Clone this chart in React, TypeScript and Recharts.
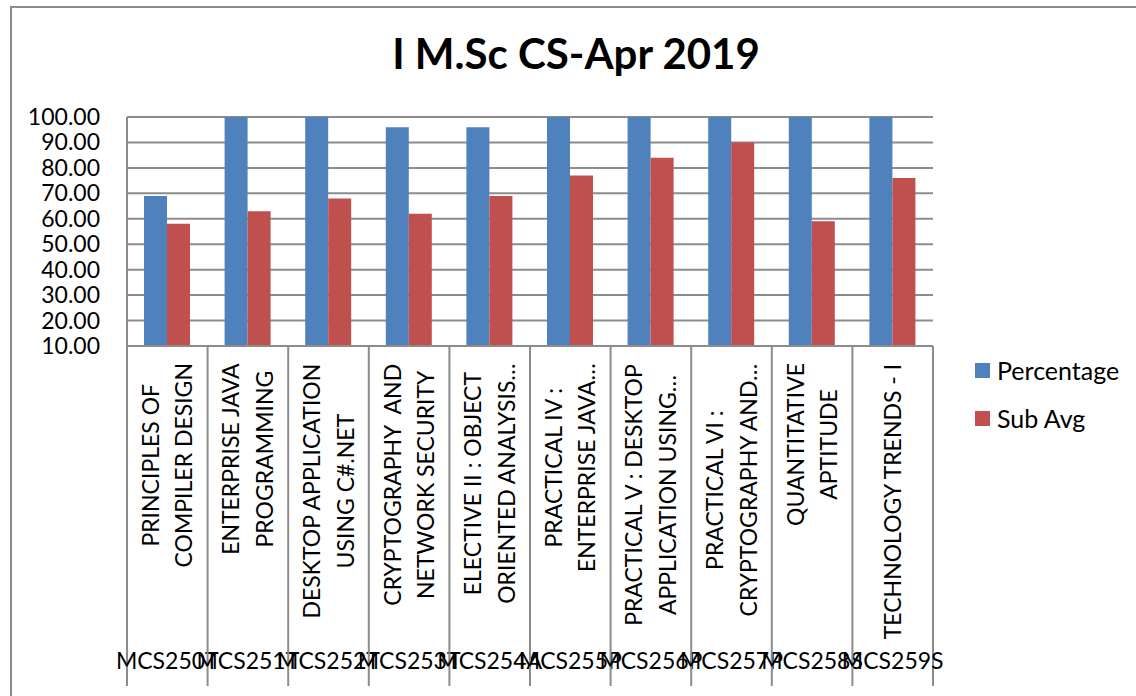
import { Bar, BarChart, CartesianGrid, Legend, XAxis, YAxis } from "recharts";

// Subject codes (bottom row of the category axis)
const codes = [
  "MCS250T", "MCS251T", "MCS252T", "MCS253T", "MCS254A",
  "MCS255P", "MCS256P", "MCS257P", "MCS258S", "MCS259S",
];

// Subject names, already wrapped as in the original labels
const subjectLines = [
  ["PRINCIPLES OF", "COMPILER DESIGN"],
  ["ENTERPRISE JAVA", "PROGRAMMING"],
  ["DESKTOP APPLICATION", "USING C#.NET"],
  ["CRYPTOGRAPHY  AND", "NETWORK SECURITY"],
  ["ELECTIVE II : OBJECT", "ORIENTED ANALYSIS…"],
  ["PRACTICAL IV :", "ENTERPRISE JAVA…"],
  ["PRACTICAL V : DESKTOP", "APPLICATION USING…"],
  ["PRACTICAL VI :", "CRYPTOGRAPHY AND…"],
  ["QUANTITATIVE", "APTITUDE"],
  ["TECHNOLOGY TRENDS - I"],
];

const percentage = [69, 100, 100, 96, 96, 100, 100, 100, 100, 100];
const subAvg = [58, 63, 68, 62, 69, 77, 84, 90, 59, 76];

const yTicks = [10, 20, 30, 40, 50, 60, 70, 80, 90, 100];

const BLUE = "#4F81BD";
const RED = "#C0504D";
const LINE = "#8c8c8c";
const FONT = "Lato, 'Open Sans', sans-serif";

const W = 1136;
const H = 696;
const PLOT_LEFT = 127;
const PLOT_RIGHT = 933;
const PLOT_TOP = 117;
const AXIS_Y = 346;
const BAND = (PLOT_RIGHT - PLOT_LEFT) / codes.length;
const LABEL_FS = 23;
const LABEL_TOP = 363;
const LINE_GAP = 33.5;

const data = codes.map((code, i) => ({
  code,
  percentage: percentage[i],
  subAvg: subAvg[i],
}));

let ctx: CanvasRenderingContext2D | null = null;
function textWidth(s: string, fs: number) {
  if (!ctx) ctx = document.createElement("canvas").getContext("2d");
  if (!ctx) return s.length * fs * 0.55;
  ctx.font = `${fs}px Lato`;
  return ctx.measureText(s).width;
}

function CategoryTick(props: any) {
  const { x, index } = props;
  const lines = subjectLines[index] ?? [];
  const longest = Math.max(...lines.map((l) => textWidth(l, LABEL_FS)));
  const cy = LABEL_TOP + longest / 2;
  const capH = LABEL_FS * 0.72;
  const n = lines.length;
  return (
    <g>
      <line x1={x - BAND / 2} x2={x - BAND / 2} y1={AXIS_Y} y2={686} stroke={LINE} strokeWidth={2} />
      {index === codes.length - 1 && (
        <line x1={x + BAND / 2} x2={x + BAND / 2} y1={AXIS_Y} y2={686} stroke={LINE} strokeWidth={2} />
      )}
      {lines.map((l, j) => {
        const bx = x + (j - (n - 1) / 2) * LINE_GAP + capH / 2;
        return (
          <text
            key={j}
            x={bx}
            y={cy}
            transform={`rotate(-90 ${bx} ${cy})`}
            textAnchor="middle"
            fontSize={LABEL_FS}
            fontFamily={FONT}
            fill="#000"
            style={{ whiteSpace: "pre" }}
          >
            {l}
          </text>
        );
      })}
      <text x={x} y={669} textAnchor="middle" fontSize={LABEL_FS} fontFamily={FONT} fill="#000">
        {codes[index]}
      </text>
    </g>
  );
}

function ValueTick(props: any) {
  const { y, payload } = props;
  return (
    <text x={100} y={y + 8} textAnchor="end" fontSize={23} fontFamily={FONT} fill="#000">
      {Number(payload.value).toFixed(2)}
    </text>
  );
}

function LegendBox() {
  const items = [
    { name: "Percentage", color: BLUE },
    { name: "Sub Avg", color: RED },
  ];
  return (
    <div style={{ fontFamily: FONT, fontSize: 25, color: "#000" }}>
      {items.map((it) => (
        <div key={it.name} style={{ display: "flex", alignItems: "center", height: 48 }}>
          <span style={{ width: 15, height: 15, background: it.color, marginRight: 7 }} />
          <span>{it.name}</span>
        </div>
      ))}
    </div>
  );
}

export default function App() {
  return (
    <div style={{ position: "absolute", left: 0, top: 0, width: W, height: H, overflow: "hidden", background: "#fff" }}>
      <div
        style={{
          position: "absolute",
          left: 10,
          top: 6,
          width: W + 40,
          height: H + 40,
          border: `2px solid ${LINE}`,
        }}
      />
      <div
        style={{
          position: "absolute",
          left: 0,
          width: 1152,
          top: 28,
          textAlign: "center",
          fontFamily: FONT,
          fontWeight: 700,
          fontSize: 42,
          color: "#000",
        }}
      >
        I M.Sc CS-Apr 2019
      </div>
      <div style={{ position: "absolute", left: 0, top: 0 }}>
        <BarChart
          width={W}
          height={H}
          data={data}
          margin={{ top: PLOT_TOP, right: W - PLOT_RIGHT, bottom: 0, left: 0 }}
          barCategoryGap={17}
          barGap={0}
        >
          <CartesianGrid vertical={false} stroke={LINE} strokeWidth={2} />
          <XAxis
            dataKey="code"
            height={H - AXIS_Y}
            interval={0}
            tickLine={false}
            axisLine={{ stroke: LINE, strokeWidth: 2 }}
            tick={<CategoryTick />}
          />
          <YAxis
            width={PLOT_LEFT}
            domain={[10, 100]}
            ticks={yTicks}
            allowDataOverflow
            tickLine={false}
            axisLine={{ stroke: LINE, strokeWidth: 2 }}
            tick={<ValueTick />}
          />
          <Legend
            layout="vertical"
            align="center"
            verticalAlign="middle"
            wrapperStyle={{ left: 975, top: 346, width: 160 }}
            content={() => <LegendBox />}
          />
          <Bar dataKey="percentage" name="Percentage" fill={BLUE} isAnimationActive={false} />
          <Bar dataKey="subAvg" name="Sub Avg" fill={RED} isAnimationActive={false} />
        </BarChart>
      </div>
    </div>
  );
}
